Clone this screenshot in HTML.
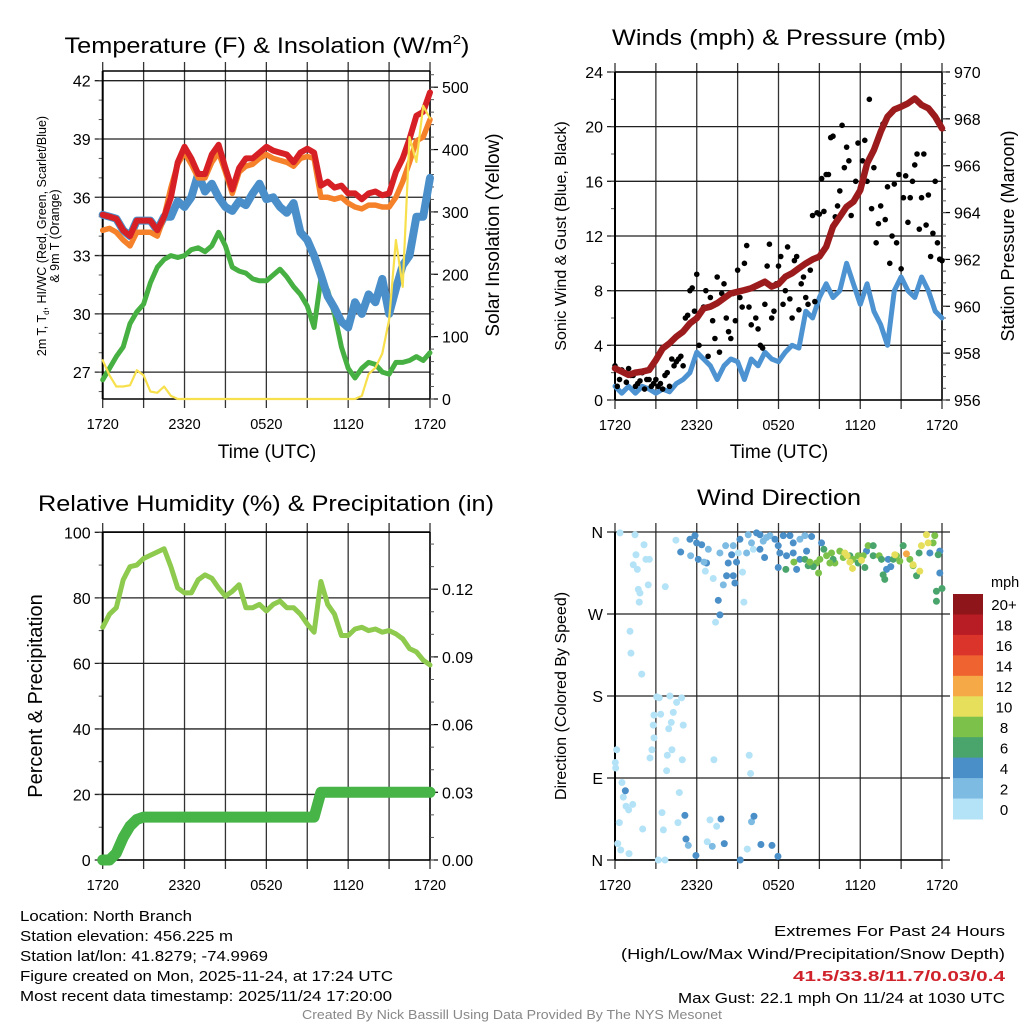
<!DOCTYPE html>
<html><head><meta charset="utf-8"><style>
html,body{margin:0;padding:0;background:#fff;}
svg{display:block;font-family:"Liberation Sans",sans-serif;}
</style></head><body>
<svg id="fig" width="1024" height="1024" viewBox="0 0 1024 1024" xmlns="http://www.w3.org/2000/svg">
<g id="txt" fill="#000">
<text x="267" y="53" font-size="22" text-anchor="middle" textLength="405" lengthAdjust="spacingAndGlyphs">Temperature (F) &amp; Insolation (W/m<tspan font-size="13" dy="-9">2</tspan><tspan dy="9">)</tspan></text>
<text x="779" y="45" font-size="22" text-anchor="middle" textLength="334" lengthAdjust="spacingAndGlyphs">Winds (mph) &amp; Pressure (mb)</text>
<text x="266" y="511" font-size="22" text-anchor="middle" textLength="456" lengthAdjust="spacingAndGlyphs">Relative Humidity (%) &amp; Precipitation (in)</text>
<text x="779" y="505" font-size="22" text-anchor="middle" textLength="164" lengthAdjust="spacingAndGlyphs">Wind Direction</text>
<text transform="translate(46,236) rotate(-90)" font-size="12.5" text-anchor="middle">2m T, T<tspan font-size="8" dy="3">d</tspan><tspan dy="-3">, HI/WC (Red, Green, Scarlet/Blue)</tspan></text>
<text transform="translate(59,236) rotate(-90)" font-size="12.5" text-anchor="middle">&amp; 9m T (Orange)</text>
<text transform="translate(499,235) rotate(-90)" font-size="19" text-anchor="middle">Solar Insolation (Yellow)</text>
<text transform="translate(566,236) rotate(-90)" font-size="16" text-anchor="middle">Sonic Wind &amp; Gust (Blue, Black)</text>
<text transform="translate(1014,236) rotate(-90)" font-size="18" text-anchor="middle">Station Pressure (Maroon)</text>
<text transform="translate(42,696) rotate(-90)" font-size="20" text-anchor="middle">Percent &amp; Precipitation</text>
<text transform="translate(566,696) rotate(-90)" font-size="16" text-anchor="middle">Direction (Colored By Speed)</text>
<text x="267" y="458" font-size="19" text-anchor="middle">Time (UTC)</text>
<text x="779" y="458" font-size="19" text-anchor="middle">Time (UTC)</text>
<g font-size="14.5">
<text x="20" y="921" textLength="172" lengthAdjust="spacingAndGlyphs">Location: North Branch</text>
<text x="20" y="941" textLength="213" lengthAdjust="spacingAndGlyphs">Station elevation: 456.225 m</text>
<text x="20" y="961" textLength="248" lengthAdjust="spacingAndGlyphs">Station lat/lon: 41.8279; -74.9969</text>
<text x="20" y="981" textLength="373" lengthAdjust="spacingAndGlyphs">Figure created on Mon, 2025-11-24, at 17:24 UTC</text>
<text x="20" y="1001" textLength="372" lengthAdjust="spacingAndGlyphs">Most recent data timestamp: 2025/11/24 17:20:00</text>
</g>
<g font-size="15" text-anchor="end">
<text x="1005" y="936" textLength="231" lengthAdjust="spacingAndGlyphs">Extremes For Past 24 Hours</text>
<text x="1005" y="959" textLength="384" lengthAdjust="spacingAndGlyphs">(High/Low/Max Wind/Precipitation/Snow Depth)</text>
<text x="1005" y="981" fill="#d0222a" font-weight="bold" textLength="212" lengthAdjust="spacingAndGlyphs">41.5/33.8/11.7/0.03/0.4</text>
<text x="1005" y="1003" textLength="327" lengthAdjust="spacingAndGlyphs">Max Gust: 22.1 mph On 11/24 at 1030 UTC</text>
</g>
<text x="512" y="1019" font-size="12.5" fill="#888" text-anchor="middle" textLength="420" lengthAdjust="spacingAndGlyphs">Created By Nick Bassill Using Data Provided By The NYS Mesonet</text>
</g>
<g id="plots"></g>
</svg>
<script>
// ---------- data (half-hour samples, 0..24 h since 1720 UTC) ----------
const timeLabels = ["1720","2320","0520","1120","1720"];
const tempF = [35.1,35.0,34.9,34.3,34.0,34.8,34.8,34.8,34.3,35.0,36.0,37.8,38.6,38.0,37.2,37.2,38.2,38.7,37.5,36.4,37.5,38.0,38.0,38.3,38.6,38.4,38.3,38.2,37.8,38.3,38.5,38.3,36.6,36.8,36.5,36.6,36.2,36.2,35.9,36.2,36.3,36.1,36.2,37.3,38.0,39.0,40.2,40.4,41.4];
const temp9m = [34.3,34.4,34.2,33.8,33.5,34.2,34.2,34.2,34.0,35.0,36.5,37.7,38.3,37.7,37.0,37.0,37.8,38.3,37.3,36.2,37.3,37.6,37.7,38.0,38.2,38.0,37.9,37.8,37.6,38.0,38.1,38.0,36.0,36.0,35.9,36.0,35.7,35.5,35.4,35.6,35.6,35.5,35.5,36.0,36.8,37.8,38.9,39.1,40.0];
const windChill = [35.1,35.0,34.9,34.3,34.0,34.8,34.8,34.8,34.3,35.0,35.0,35.8,35.5,36.0,37.2,36.3,36.7,36.0,35.5,35.3,35.8,35.6,36.2,36.7,35.9,36.0,35.5,35.2,35.7,34.2,33.8,33.0,32.0,30.9,30.3,29.6,29.3,30.6,30.0,31.0,30.6,31.8,30.0,31.3,32.5,33.0,35.0,35.0,37.0];
const dewpoint = [26.6,27.2,27.8,28.3,29.5,30.1,30.5,31.6,32.4,32.8,33.0,32.9,33.0,33.3,33.4,33.2,33.5,34.2,33.5,32.4,32.2,32.1,31.8,31.7,31.7,32.0,32.3,31.9,31.4,31.0,30.4,29.3,31.8,31.2,30.0,28.3,27.2,26.7,27.2,27.5,27.4,27.0,26.9,27.5,27.5,27.6,27.8,27.6,28.0];
const solar = [62,38,20,20,22,46,38,12,10,20,5,0,0,0,0,0,0,0,0,0,0,0,0,0,0,0,0,0,0,0,0,0,0,0,0,0,0,0,5,40,50,73,127,255,180,420,380,470,450];
const tempTicks = [27,30,33,36,39,42];
const solarTicks = [0,100,200,300,400,500];

const windSpd = [1.0,0.5,1.0,0.5,1.0,0.8,0.5,0.8,0.6,1.2,1.5,2.0,3.5,3.0,2.5,1.5,2.5,3.0,2.8,1.5,3.0,2.5,3.5,3.0,2.8,3.5,4.0,3.8,6.5,6.0,7.5,8.5,7.5,8.0,10.0,8.5,7.0,8.5,6.5,5.5,4.0,8.0,9.0,8.0,7.5,9.0,8.0,6.5,6.0];
const pressure = [957.35,957.21,957.07,957.17,957.21,957.28,957.71,958.20,958.42,958.70,958.92,959.27,959.49,959.91,959.98,960.13,960.34,960.55,960.62,960.69,960.77,960.91,961.05,960.84,960.95,961.26,961.41,961.62,961.83,962.00,962.12,962.54,963.40,963.82,964.25,964.46,964.96,966.10,966.67,967.45,968.09,968.40,968.52,968.66,968.87,968.59,968.45,968.09,967.59];
const gustA = [2.5,1.5,2.0,2.3,1.8,1.2,2.0,1.5,1.0,1.5,1.2,1.8,1.0,2.5,3.0,2.5,6.2,8.2,9.2,6.5,8.0,7.5,4.5,3.5,8.5,5.0,7.8,9.5,6.8,11.3,5.5,6.0,4.0,7.0,11.4,6.5,9.8,7.0,11.2,6.0,10.5,8.5,7.5,9.5,7.2,13.6,13.8,16.5,19.3,14.2,20.1,18.5,13.5,16.0,15.5,19.0,22.0,17.0,12.9,20.2,15.6,12.0,11.5,9.6,16.4,14.8,17.2,12.5,18.0,15.0,12.2,11.5,10.2];
const gustB = [1.0,2.2,1.3,1.8,1.0,1.4,0.8,1.5,1.2,1.0,0.8,2.0,3.0,2.8,3.2,6.0,8.0,6.5,4.0,6.8,3.2,5.8,9.0,7.8,6.0,4.5,5.8,7.5,10.0,6.8,8.2,5.2,3.8,9.8,6.0,8.5,10.5,8.0,7.4,10.2,6.6,9.0,7.0,13.5,13.7,16.2,16.5,19.2,13.4,15.3,17.0,17.5,14.5,18.8,17.5,16.0,14.0,11.5,14.2,13.2,10.0,15.8,16.5,14.8,13.0,16.0,18.0,14.8,12.8,10.5,16.0,10.3];
const windTicks = [0,4,8,12,16,20,24];
const presTicks = [956,958,960,962,964,966,968,970];

const rh = [71,75,77,85.5,89.5,90,92,93,94,95,89.5,83,81.5,81.5,85.5,87,86,83,80.5,82,84,77,77,78,76,78,79,77,77,75,72,69.5,85,78,75,68.5,68.5,70.5,71,70,70.5,69.5,70,69,67.5,64.5,63.5,61,59.5];
const precip = [0,0,0.003,0.01,0.015,0.018,0.019,0.019,0.019,0.019,0.019,0.019,0.019,0.019,0.019,0.019,0.019,0.019,0.019,0.019,0.019,0.019,0.019,0.019,0.019,0.019,0.019,0.019,0.019,0.019,0.019,0.019,0.030,0.030,0.030,0.030,0.030,0.030,0.030,0.030,0.030,0.030,0.030,0.030,0.030,0.030,0.030,0.030,0.030];
const rhTicks = [0,20,40,60,80,100];
const precipTicks = ["0.00","0.03","0.06","0.09","0.12"];

const dirHour = [0.37,1.47,2.13,1.54,1.34,1.64,2.27,2.52,1.71,1.83,1.78,2.44,3.69,1.10,1.17,1.96,3.06,3.25,4.03,4.52,4.89,2.86,3.35,4.28,4.13,3.94,5.01,2.81,2.86,2.71,2.57,3.84,4.18,4.94,3.79,0.12,0.02,0.05,0.51,0.61,0.81,1.00,1.30,0.32,2.03,0.20,0.42,1.03,3.45,3.55,4.62,4.72,7.26,9.85,9.95,6.97,7.46,6.77,9.71,3.18,3.67,4.47,6.63,7.21,7.38,9.46,9.36,9.05,10.15,
5.50,5.87,5.99,6.36,6.85,6.72,7.70,8.12,8.56,8.68,8.31,8.92,9.17,9.66,9.78,10.39,10.64,10.88,11.12,11.37,11.74,11.98,12.35,12.84,13.08,13.57,13.94,14.43,12.10,12.59,13.08,13.57,14.06,11.98,13.33,10.98,10.64,10.02,8.19,8.68,8.80,7.95,7.58,7.70,4.82,5.55,6.11,6.53,0.76,5.13,5.21,5.38,5.94,7.78,8.02,7.14,10.02,10.20,10.71,11.52,11.96,9.19,23.84,23.11,23.84,20.05,19.93,20.24,18.46,
15.16,15.33,14.79,15.04,14.94,14.55,14.18,15.53,15.89,16.14,16.50,16.75,17.24,17.48,17.85,18.22,18.34,18.58,18.95,18.95,19.39,19.56,19.68,19.80,20.42,20.66,20.90,21.15,21.64,21.88,22.13,22.32,23.35,23.47,23.72,23.59,24.0,23.59,13.13,12.54,13.94,14.30,16.01,17.85,
15.77,16.87,17.43,17.24,18.09,20.54,21.88,22.37,22.49,22.86,22.98,17.04,21.39];
const dirDeg = [359,357,346,335,324,319,330,330,297,293,283,302,300,251,227,204,179,178,180,173,178,159,160,162,151,144,148,148,134,121,112,115,121,110,98,121,107,101,85,69,59,55,61,41,34,18,11,7,52,33,41,74,110,115,95,44,37,20,12,0,0,351,317,309,261,283,316,337,341,
352,356,348,346,341,326,337,345,335,345,326,327,352,337,357,359,357,350,354,356,352,345,356,356,348,352,356,355,337,334,337,330,339,321,319,332,341,348,312,312,304,302,285,269,338,334,330,327,76,49,23,16,5,45,18,15,42,48,17,16,4,0,315,337,339,330,319,322,339,
348,341,326,330,315,322,323,334,337,326,339,332,334,330,334,334,321,345,345,334,334,330,313,308,330,334,328,345,330,323,312,337,348,356,335,295,298,284,327,319,330,327,330,326,
326,337,320,327,329,335,324,317,345,357,348,334,336];
const dirSpd = [0.5,0.5,0.5,0.5,0.5,0.5,0.5,0.5,0.5,0.5,0.5,0.5,0.5,0.5,0.5,0.5,0.5,0.5,0.5,0.5,0.5,0.5,0.5,0.5,0.5,0.5,0.5,0.5,0.5,0.5,0.5,0.5,0.5,0.5,0.5,0.5,0.5,0.5,0.5,0.5,0.5,0.5,0.5,0.5,0.5,0.5,0.5,0.5,0.5,0.5,0.5,0.5,0.5,0.5,0.5,0.5,0.5,0.5,0.5,0.5,0.5,0.5,0.5,0.5,0.5,0.5,0.5,0.5,0.5,
5,5,5,5,3,5,3,3,5,3,5,5,5,3,3,5,5,3,3,3,5,5,5,5,5,3,3,5,5,5,5,5,5,5,5,5,5,3,5,5,5,3,5,5,5,3,5,3,5,5,5,3,5,5,5,3,3,5,5,5,5,5,5,5,5,5,5,5,5,5,
7,9,9,9,7,7,9,9,9,9,9,7,9,9,9,7,9,7,7,9,7,7,7,7,9,9,7,9,9,7,7,9,9,7,7,7,7,9,7,7,9,7,7,9,
11,11,11,11,11,11,11,11,11,11,11,13,13];
const dirTicks = ["N","E","S","W","N"];
const speedBins = ["0","2","4","6","8","10","12","14","16","18","20+"];
const speedColors = ["#b4e3f7","#7dbbe3","#4a8fc7","#4aa56d","#7cc14a","#e5df5b","#f6a947","#ee6330","#db352b","#b81c24","#8e1519"];

// ---------- helpers ----------
const NS = "http://www.w3.org/2000/svg";
const root = document.getElementById('plots');
function mk(tag, attrs, name, parent) {
  const el = document.createElementNS(NS, tag);
  for (const k in attrs) el.setAttribute(k, attrs[k]);
  
  
  (parent || root).appendChild(el);
  return el;
}
function poly(xs, ys, name, stroke, w, parent) {
  let d = '';
  for (let i = 0; i < xs.length; i++) d += (i ? 'L' : 'M') + xs[i].toFixed(1) + ',' + ys[i].toFixed(1);
  return mk('path', {d: d, fill: 'none', stroke: stroke, 'stroke-width': w, 'stroke-linejoin': 'round', 'stroke-linecap': 'round'}, name, parent);
}
function txt(x, y, s, size, anchor, name, parent) {
  const t = mk('text', {x: x, y: y, 'font-size': size, 'text-anchor': anchor}, name, parent);
  t.textContent = s;
  return t;
}
function frame(P, yTicksL, yfL, labelsL, minorL, name) {
  const g = mk('g', {}, name + '-axes');
  for (let i = 0; i <= 8; i++) {
    const x = P.x0 + i * (P.x1 - P.x0) / 8;
    mk('line', {x1: x, x2: x, y1: P.top - 9, y2: P.bot + 9, stroke: '#333', 'stroke-width': 1.3}, name + '-vgrid', g);
  }
  for (let i = 0; i < yTicksL.length; i++) {
    const y = yfL(yTicksL[i]);
    mk('line', {x1: P.x0 - 8, x2: P.x1 + (P.noRight ? 8 : 0), y1: y, y2: y, stroke: '#222', 'stroke-width': 1.3}, name + '-hgrid', g);
    txt(P.x0 - 12, y + 6, labelsL[i], 16, 'end', name + '-y-tick-label', g);
  }
  for (const v of minorL) {
    const y = yfL(v);
    mk('line', {x1: P.x0 - 4, x2: P.x0, y1: y, y2: y, stroke: '#555', 'stroke-width': 1}, name + '-minor-tick', g);
  }
  for (let i = 0; i < timeLabels.length; i++) {
    const x = P.x0 + i * (P.x1 - P.x0) / 4;
    txt(x, P.bot + 30, timeLabels[i], 14.5, 'middle', name + '-x-tick-label', g);
  }
  if (!P.noRight) {
    mk('line', {x1: P.x0, x2: P.x1, y1: P.top, y2: P.top, stroke: '#000', 'stroke-width': 1.5}, name + '-top-border', g);
    mk('line', {x1: P.x1, x2: P.x1, y1: P.top, y2: P.bot, stroke: '#000', 'stroke-width': 1.5}, name + '-right-border', g);
  }
  mk('line', {x1: P.x0, x2: P.x0, y1: P.top, y2: P.bot, stroke: '#000', 'stroke-width': 2}, name + '-left-border', g);
  mk('line', {x1: P.x0, x2: P.x1, y1: P.bot, y2: P.bot, stroke: '#000', 'stroke-width': 1.5}, name + '-bottom-border', g);
  return g;
}
function rightAxis(P, ticks, yf, labels, minor, name) {
  const g = mk('g', {}, name);
  for (let i = 0; i < ticks.length; i++) {
    const y = yf(ticks[i]);
    mk('line', {x1: P.x1, x2: P.x1 + 8, y1: y, y2: y, stroke: '#000', 'stroke-width': 1.2}, name + '-tick', g);
    txt(P.x1 + 12, y + 6, labels[i], 16, 'start', name + '-tick-label', g);
  }
  for (const v of minor) {
    const y = yf(v);
    mk('line', {x1: P.x1, x2: P.x1 + 4, y1: y, y2: y, stroke: '#555', 'stroke-width': 1}, name + '-minor-tick', g);
  }
}
function range(a, b, s) { const r = []; for (let v = a; v <= b + 1e-9; v += s) r.push(+v.toFixed(4)); return r; }

// ---------- Panel 1 ----------
const P1 = {x0: 102.7, x1: 430, top: 71, bot: 399};
const xH1 = h => P1.x0 + h / 24 * (P1.x1 - P1.x0);
const yT = v => 80.7 + (42 - v) * 19.43;
const yS = v => 399 - v * 0.6236;
frame(P1, tempTicks, yT, tempTicks.map(String), range(26, 42, 1), 'temperature');
rightAxis(P1, solarTicks, yS, solarTicks.map(String), range(0, 520, 20), 'solar-axis');
const hh = tempF.map((_, i) => i / 2);
poly(hh.map(xH1), dewpoint.map(yT), 'dewpoint-line', '#47b042', 5);
poly(hh.map(xH1), windChill.map(yT), 'wind-chill-line', '#4a8fc9', 8);
poly(hh.map(xH1), temp9m.map(yT), 'temp-9m-line', '#f5812a', 5.5);
poly(hh.map(xH1), tempF.map(yT), 'temperature-line', '#d62026', 6);
poly(hh.map(xH1), solar.map(yS), 'solar-line', '#f7e04c', 2.2);

// ---------- Panel 2 ----------
const P2 = {x0: 615, x1: 942, top: 72, bot: 400};
const xH2 = h => P2.x0 + h / 24 * (P2.x1 - P2.x0);
const yW = v => 400 - v * 13.667;
const yP = v => 400 - (v - 956) * 23.43;
frame(P2, windTicks, yW, windTicks.map(String), range(0, 24, 2), 'winds');
rightAxis(P2, presTicks, yP, presTicks.map(String), range(956, 970, 0.5), 'pressure-axis');
poly(hh.map(xH2), windSpd.map(yW), 'wind-speed-line', '#4d93d2', 5);
const gg = mk('g', {}, 'gust-dots');
gustA.forEach((v, i) => mk('circle', {cx: xH2(i / 3), cy: yW(v), r: 2.8, fill: '#000'}, 'gust-dot', gg));
gustB.forEach((v, i) => mk('circle', {cx: xH2((i + 0.5) / 3), cy: yW(v), r: 2.8, fill: '#000'}, 'gust-dot', gg));
poly(hh.map(xH2), pressure.map(yP), 'pressure-line', '#9c1b1d', 6.5);

// ---------- Panel 3 ----------
const P3 = {x0: 102.7, x1: 430, top: 532, bot: 860};
const xH3 = h => P3.x0 + h / 24 * (P3.x1 - P3.x0);
const yR = v => 860 - v * 3.277;
const yPr = v => 860 - v / 0.03 * 67.7;
frame(P3, rhTicks, yR, rhTicks.map(String), range(0, 100, 10), 'humidity');
rightAxis(P3, precipTicks.map(Number), yPr, precipTicks, range(0, 0.14, 0.01), 'precip-axis');
poly(hh.map(xH3), rh.map(yR), 'humidity-line', '#8dca4d', 5);
poly(hh.map(xH3), precip.map(yPr), 'precipitation-line', '#46b446', 11);

// ---------- Panel 4 ----------
const P4 = {x0: 615, x1: 942, top: 532, bot: 860, noRight: true};
const xH4 = h => P4.x0 + h / 24 * (P4.x1 - P4.x0);
const yD = v => 860 - v / 360 * 328;
frame(P4, [0, 90, 180, 270, 360], yD, dirTicks, [], 'direction');
const dg = mk('g', {}, 'direction-dots');
function spdColor(s) { return speedColors[Math.min(10, Math.floor(s / 2))]; }
dirHour.forEach((h, i) => mk('circle', {cx: xH4(h), cy: yD(dirDeg[i]), r: 3.5, fill: spdColor(dirSpd[i])}, 'direction-dot', dg));
const cb = mk('g', {}, 'speed-colorbar');
txt(991, 587, 'mph', 14.5, 'start', 'colorbar-title', cb);
const cbTop = 594, cbH = 225 / 11;
for (let i = 0; i < 11; i++) {
  const j = 10 - i;
  mk('rect', {x: 953, y: cbTop + i * cbH, width: 30, height: cbH + 0.5, fill: speedColors[j]}, 'colorbar-swatch', cb);
  txt(1004, cbTop + i * cbH + cbH / 2 + 6, speedBins[j], 15, 'middle', 'colorbar-label', cb);
}
</script>
</body></html>
